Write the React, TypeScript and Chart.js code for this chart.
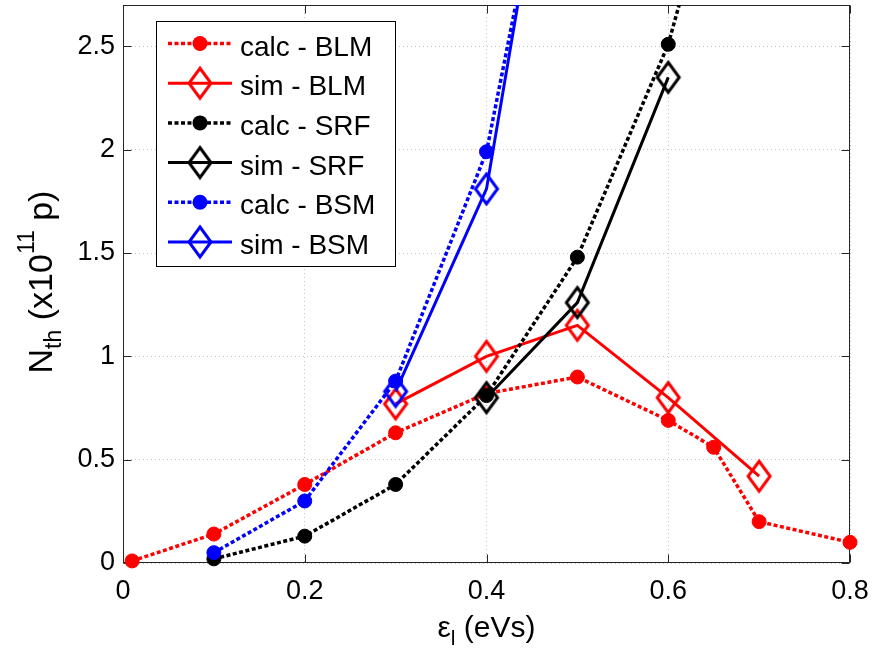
import React, { useEffect, useRef } from 'react';
import { Chart, registerables } from 'chart.js';
Chart.register(...registerables);

const xTicks = [0, 0.2, 0.4, 0.6, 0.8];
const yTicks = [0, 0.5, 1, 1.5, 2, 2.5];

const calcBLMx = [0.01, 0.1, 0.2, 0.3, 0.4, 0.5, 0.6, 0.65, 0.7, 0.8];
const calcBLMy = [0.01, 0.14, 0.38, 0.63, 0.82, 0.9, 0.69, 0.56, 0.2, 0.1];
const simBLMx = [0.3, 0.4, 0.5, 0.6, 0.7];
const simBLMy = [0.77, 1.0, 1.15, 0.8, 0.42];
const calcSRFx = [0.1, 0.2, 0.3, 0.4, 0.5, 0.6, 0.7];
const calcSRFy = [0.02, 0.13, 0.38, 0.81, 1.48, 2.51, 4.1];
const simSRFx = [0.4, 0.5, 0.6];
const simSRFy = [0.8, 1.26, 2.35];
const calcBSMx = [0.1, 0.2, 0.3, 0.4, 0.5];
const calcBSMy = [0.05, 0.3, 0.88, 1.99, 4.2];
const simBSMx = [0.3, 0.4, 0.5];
const simBSMy = [0.83, 1.81, 4.4];

const seriesNames = ['calc - BLM', 'sim - BLM', 'calc - SRF', 'sim - SRF', 'calc - BSM', 'sim - BSM'];
const seriesColors = ['#ff0000', '#ff0000', '#000000', '#000000', '#0000ff', '#0000ff'];
const seriesKinds = ['calc', 'sim', 'calc', 'sim', 'calc', 'sim'];
const seriesX = [calcBLMx, simBLMx, calcSRFx, simSRFx, calcBSMx, simBSMx];
const seriesY = [calcBLMy, simBLMy, calcSRFy, simSRFy, calcBSMy, simBSMy];

const FONT = '"Liberation Sans", Arial, Helvetica, sans-serif';
const DOT_DASH = [4, 2.5];

function makeDiamond(color: string): HTMLCanvasElement {
  const c = document.createElement('canvas');
  c.width = 30;
  c.height = 40;
  const ctx = c.getContext('2d')!;
  ctx.strokeStyle = color;
  ctx.lineWidth = 3;
  ctx.lineJoin = 'miter';
  ctx.beginPath();
  ctx.moveTo(15, 5);
  ctx.lineTo(26, 20);
  ctx.lineTo(15, 35);
  ctx.lineTo(4, 20);
  ctx.closePath();
  ctx.stroke();
  return c;
}

function drawSegments(ctx: CanvasRenderingContext2D, segs: { t: string; size: number; dy: number }[]) {
  let total = 0;
  const widths = segs.map((s) => {
    ctx.font = `${s.size}px ${FONT}`;
    const w = ctx.measureText(s.t).width;
    total += w;
    return w;
  });
  let x = -total / 2;
  segs.forEach((s, i) => {
    ctx.font = `${s.size}px ${FONT}`;
    ctx.fillText(s.t, x, s.dy);
    x += widths[i];
  });
}

function zeroPad(s: any) {
  s.paddingTop = 0;
  s.paddingBottom = 0;
  s.paddingLeft = 0;
  s.paddingRight = 0;
}

export default function App() {
  const ref = useRef<HTMLCanvasElement>(null);
  useEffect(() => {
    const canvas = ref.current!;
    const diamonds: Record<string, HTMLCanvasElement> = {
      '#ff0000': makeDiamond('#ff0000'),
      '#000000': makeDiamond('#000000'),
      '#0000ff': makeDiamond('#0000ff'),
    };

    const datasets = seriesNames.map((name, i) => {
      const color = seriesColors[i];
      const isCalc = seriesKinds[i] === 'calc';
      return {
        label: name,
        data: seriesX[i].map((x, j) => ({ x, y: seriesY[i][j] })),
        borderColor: color,
        backgroundColor: color,
        borderWidth: isCalc ? 3.5 : 3,
        borderDash: isCalc ? DOT_DASH : [],
        borderCapStyle: 'butt',
        tension: 0,
        pointStyle: isCalc ? 'circle' : diamonds[color],
        pointRadius: isCalc ? 7 : 15,
        pointBorderWidth: 1,
        pointBackgroundColor: color,
        pointBorderColor: color,
        clip: { left: 40, right: 40, top: 0, bottom: 40 },
        order: seriesNames.length - i,
      };
    });

    const decor = {
      id: 'decor',
      beforeDatasetsDraw(chart: any) {
        const { ctx, chartArea: a, scales } = chart;
        ctx.save();
        ctx.strokeStyle = '#262626';
        ctx.lineWidth = 1;
        const L = Math.round(a.left) + 0.5;
        const R = Math.round(a.right) - 0.5;
        const T = Math.round(a.top) + 0.5;
        const B = Math.round(a.bottom) - 0.5;
        ctx.beginPath();
        xTicks.forEach((v) => {
          const px = Math.round(scales.x.getPixelForValue(v)) + 0.5;
          ctx.moveTo(px, B);
          ctx.lineTo(px, B - 8);
          ctx.moveTo(px, T);
          ctx.lineTo(px, T + 8);
        });
        yTicks.forEach((v) => {
          const py = Math.round(scales.y.getPixelForValue(v)) + 0.5;
          ctx.moveTo(L, py);
          ctx.lineTo(L + 8, py);
          ctx.moveTo(R, py);
          ctx.lineTo(R - 8, py);
        });
        ctx.stroke();
        ctx.strokeRect(L, T, R - L, B - T);
        ctx.restore();
      },
      afterDraw(chart: any) {
        const { ctx, chartArea: a } = chart;
        ctx.save();
        ctx.fillStyle = '#000';
        ctx.textBaseline = 'alphabetic';
        // x title
        ctx.save();
        ctx.translate((a.left + a.right) / 2, 637);
        drawSegments(ctx, [
          { t: 'ε', size: 30, dy: 0 },
          { t: 'l', size: 21, dy: 8 },
          { t: ' (eVs)', size: 30, dy: 0 },
        ]);
        ctx.restore();
        // y title
        ctx.save();
        ctx.translate(52, 282);
        ctx.rotate(-Math.PI / 2);
        drawSegments(ctx, [
          { t: 'N', size: 34, dy: 0 },
          { t: 'th', size: 23, dy: 9 },
          { t: ' (x10', size: 34, dy: 0 },
          { t: '11', size: 23, dy: -18 },
          { t: ' p)', size: 34, dy: 0 },
        ]);
        ctx.restore();
        // legend
        const bx = 156, by = 21, bw = 239, bh = 245;
        ctx.fillStyle = '#fff';
        ctx.fillRect(bx, by, bw, bh);
        ctx.strokeStyle = '#000';
        ctx.lineWidth = 1;
        ctx.strokeRect(bx + 0.5, by + 0.5, bw, bh);
        seriesNames.forEach((name, i) => {
          const color = seriesColors[i];
          const isCalc = seriesKinds[i] === 'calc';
          const ry = 43.5 + i * 39.7;
          ctx.save();
          ctx.strokeStyle = color;
          ctx.lineWidth = isCalc ? 3.5 : 3;
          ctx.lineCap = 'butt';
          ctx.setLineDash(isCalc ? DOT_DASH : []);
          ctx.beginPath();
          ctx.moveTo(168, ry);
          ctx.lineTo(232, ry);
          ctx.stroke();
          ctx.setLineDash([]);
          if (isCalc) {
            ctx.fillStyle = color;
            ctx.beginPath();
            ctx.arc(200, ry, 7.5, 0, Math.PI * 2);
            ctx.fill();
          } else {
            const img = diamonds[color];
            ctx.drawImage(img, 200 - img.width / 2, ry - img.height / 2);
          }
          ctx.fillStyle = '#000';
          ctx.font = `28px ${FONT}`;
          ctx.textAlign = 'left';
          ctx.fillText(name, 240, ry + 12);
          ctx.restore();
        });
        ctx.restore();
      },
    };

    const chart = new Chart(canvas, {
      type: 'line',
      data: { datasets: datasets as any },
      options: {
        responsive: false,
        animation: false,
        events: [],
        layout: { autoPadding: false, padding: { left: 0, top: 5, right: 24, bottom: 0 } },
        plugins: { legend: { display: false }, tooltip: { enabled: false } },
        scales: {
          x: {
            type: 'linear',
            min: 0,
            max: 0.8,
            afterBuildTicks: (s: any) => {
              s.ticks = xTicks.map((v) => ({ value: v }));
            },
            afterFit: (s: any) => {
              s.height = 86;
              zeroPad(s);
            },
            grid: { color: '#c4c4c4', lineWidth: 1, drawTicks: false },
            border: { display: false, dash: [1, 3] },
            ticks: {
              font: { family: FONT, size: 27 },
              color: '#000',
              padding: 12,
              maxRotation: 0,
              autoSkip: false,
              callback: (v: any) => String(v),
            },
          },
          y: {
            type: 'linear',
            min: 0,
            max: 2.7,
            afterBuildTicks: (s: any) => {
              s.ticks = yTicks.map((v) => ({ value: v }));
            },
            afterFit: (s: any) => {
              s.width = 123;
              zeroPad(s);
            },
            grid: { color: '#c4c4c4', lineWidth: 1, drawTicks: false },
            border: { display: false, dash: [1, 3] },
            ticks: {
              font: { family: FONT, size: 27 },
              color: '#000',
              padding: 8,
              autoSkip: false,
              callback: (v: any) => String(v),
            },
          },
        },
      },
      plugins: [decor],
    } as any);
    return () => chart.destroy();
  }, []);
  return (
    <canvas
      ref={ref}
      width={874}
      height={649}
      style={{ position: 'fixed', left: 0, top: 0, width: 874, height: 649, display: 'block', background: '#fff' }}
    />
  );
}
